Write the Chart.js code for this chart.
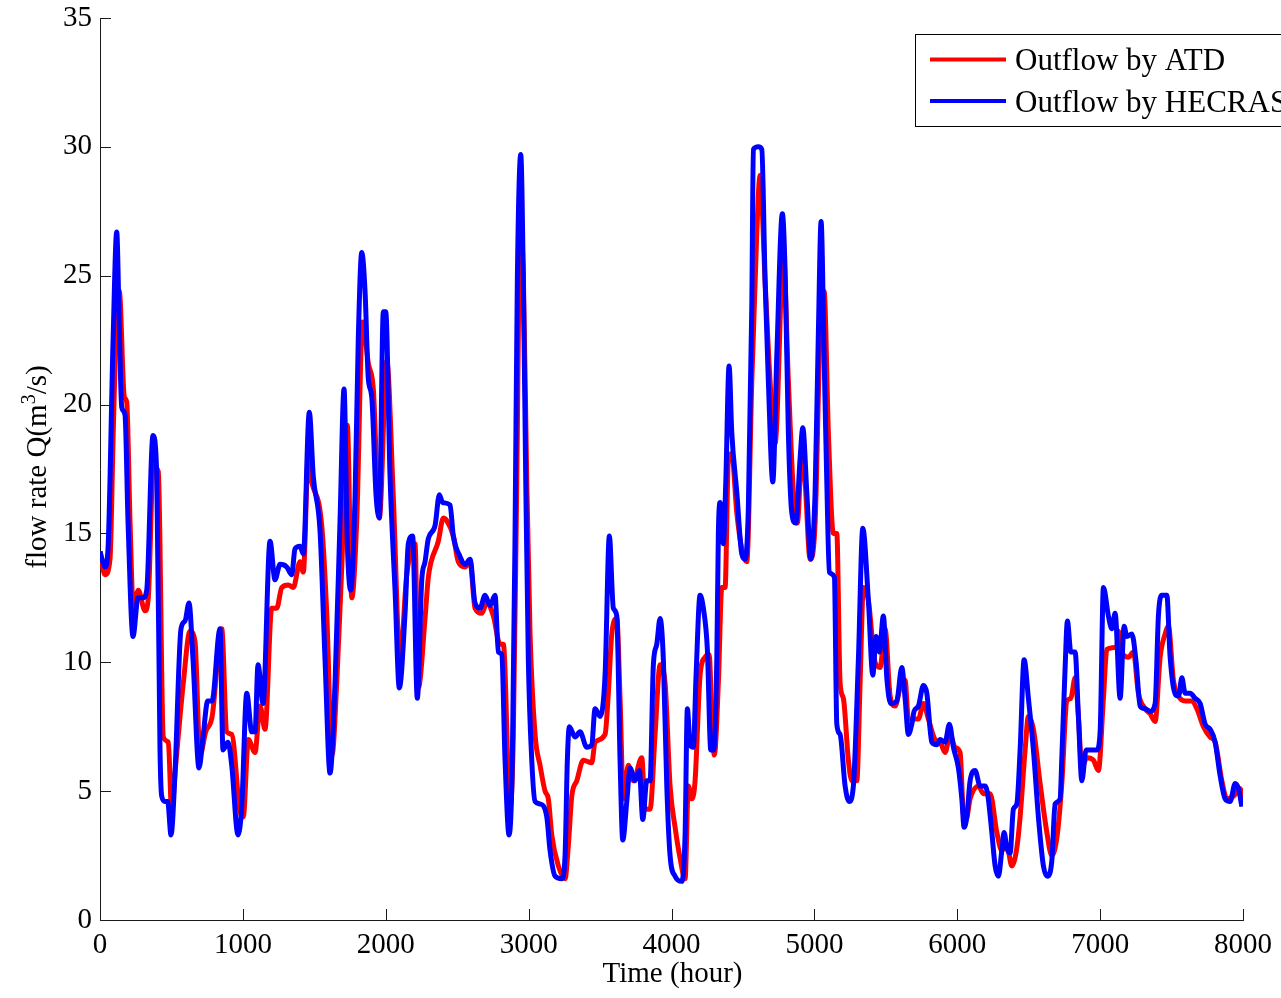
<!DOCTYPE html>
<html>
<head>
<meta charset="utf-8">
<title>Outflow comparison</title>
<script src="https://cdn.jsdelivr.net/npm/chart.js@4/dist/chart.umd.min.js"></script>
<style>
  html, body { margin: 0; padding: 0; background: #fff; }
  canvas { display: block; }
</style>
</head>
<body>
<canvas id="chart" width="1281" height="998"></canvas>
<script>
// Outflow computed by ATD (hour, m^3/s)
const atdHours = [0, 35, 70, 93, 117, 135, 170, 187, 210, 233, 268, 315, 338, 373, 408, 443, 478, 502, 525, 583, 630, 665, 700, 740, 785, 852, 887, 922, 980, 1003, 1038, 1085, 1120, 1155, 1202, 1237, 1272, 1318, 1353, 1400, 1423, 1458, 1475, 1552, 1587, 1624, 1657, 1692, 1731, 1762, 1797, 1838, 1878, 1913, 1955, 2007, 2053, 2100, 2147, 2205, 2228, 2275, 2298, 2368, 2403, 2427, 2473, 2508, 2555, 2590, 2625, 2672, 2707, 2753, 2800, 2823, 2870, 2893, 2917, 2940, 2963, 2987, 3010, 3045, 3080, 3115, 3138, 3162, 3208, 3255, 3278, 3302, 3337, 3383, 3442, 3465, 3535, 3558, 3582, 3617, 3640, 3663, 3698, 3733, 3792, 3815, 3850, 3885, 3920, 3955, 3990, 4025, 4060, 4095, 4118, 4142, 4165, 4200, 4235, 4263, 4287, 4300, 4328, 4352, 4375, 4398, 4422, 4457, 4492, 4527, 4562, 4597, 4620, 4655, 4690, 4725, 4783, 4818, 4853, 4881, 4912, 4935, 4970, 5005, 5040, 5068, 5098, 5133, 5157, 5180, 5203, 5238, 5262, 5297, 5320, 5343, 5378, 5425, 5460, 5495, 5530, 5565, 5600, 5635, 5658, 5693, 5728, 5763, 5798, 5845, 5880, 5915, 5950, 5985, 6020, 6043, 6062, 6090, 6148, 6183, 6230, 6277, 6312, 6347, 6382, 6417, 6440, 6475, 6498, 6533, 6580, 6627, 6662, 6700, 6732, 6767, 6795, 6825, 6848, 6872, 6907, 6953, 6988, 7023, 7047, 7117, 7128, 7160, 7198, 7233, 7268, 7315, 7350, 7385, 7420, 7455, 7478, 7513, 7548, 7595, 7640, 7677, 7723, 7770, 7805, 7852, 7887, 7933, 7980, 8000];
const atdFlow  = [14.3, 13.4, 14.0, 19.0, 23.5, 24.4, 20.3, 20.1, 15.5, 12.1, 12.8, 12.0, 12.5, 17.6, 17.4, 7.1, 6.9, 4.2, 5.7, 9.2, 11.2, 10.8, 6.4, 7.3, 7.9, 11.3, 7.3, 7.2, 4.2, 4.0, 7.0, 6.5, 8.3, 7.4, 12.1, 12.1, 12.9, 13.0, 12.9, 13.9, 13.5, 18.0, 17.2, 15.3, 11.9, 6.4, 9.2, 13.7, 19.2, 12.5, 15.5, 23.2, 21.6, 20.6, 15.6, 21.7, 16.4, 10.1, 13.4, 14.6, 9.0, 11.7, 13.3, 14.7, 15.6, 15.5, 14.9, 13.9, 13.7, 13.9, 12.1, 11.9, 12.3, 11.8, 10.7, 10.7, 4.3, 7.2, 17.0, 26.7, 25.0, 17.0, 11.1, 7.2, 6.0, 5.0, 4.7, 3.3, 2.1, 1.6, 2.9, 4.8, 5.4, 6.2, 6.1, 6.9, 7.2, 8.8, 11.1, 11.7, 8.6, 4.7, 6.0, 5.4, 6.3, 4.3, 4.3, 7.2, 9.9, 9.2, 5.2, 3.6, 2.4, 1.6, 5.2, 4.7, 5.4, 9.5, 10.2, 10.3, 7.2, 6.4, 9.2, 12.9, 12.9, 17.9, 18.1, 15.8, 14.4, 13.9, 20.9, 26.7, 28.9, 24.8, 20.9, 18.5, 25.8, 20.9, 16.6, 15.4, 18.1, 17.0, 14.0, 15.4, 22.8, 24.4, 18.9, 15.0, 15.0, 9.2, 8.6, 6.2, 5.4, 5.4, 9.2, 12.9, 12.4, 10.0, 9.8, 11.3, 8.7, 8.3, 9.0, 9.3, 7.8, 7.8, 7.8, 8.4, 7.8, 7.0, 6.9, 6.5, 7.2, 6.7, 6.5, 4.1, 3.9, 4.7, 5.2, 4.9, 4.9, 3.4, 2.7, 2.9, 2.1, 2.8, 4.0, 6.6, 7.9, 7.4, 5.3, 3.4, 2.5, 3.3, 5.3, 8.5, 8.6, 9.4, 7.9, 5.9, 6.3, 6.2, 5.8, 8.6, 10.5, 10.6, 11.2, 10.3, 10.2, 10.4, 8.8, 8.2, 8.0, 7.7, 10.2, 11.1, 11.4, 9.3, 8.7, 8.5, 8.5, 8.2, 7.5, 7.1, 6.9, 5.4, 4.7, 4.8, 5.1, 4.6];

// Outflow computed by HEC-RAS (hour, m^3/s)
const hecrasHours = [0, 35, 56, 92, 117, 135, 152, 175, 196, 231, 266, 301, 327, 371, 397, 420, 432, 455, 474, 497, 525, 567, 595, 623, 651, 693, 721, 754, 784, 840, 861, 896, 922, 966, 992, 1027, 1062, 1085, 1106, 1141, 1190, 1225, 1260, 1307, 1342, 1365, 1400, 1423, 1465, 1493, 1540, 1575, 1610, 1645, 1680, 1708, 1731, 1755, 1785, 1808, 1832, 1855, 1878, 1902, 1932, 1955, 1983, 2000, 2030, 2065, 2095, 2135, 2158, 2188, 2221, 2252, 2275, 2298, 2345, 2375, 2398, 2450, 2473, 2520, 2555, 2590, 2625, 2660, 2695, 2730, 2765, 2788, 2812, 2835, 2863, 2886, 2905, 2921, 2945, 2963, 2980, 2998, 3022, 3045, 3080, 3127, 3150, 3185, 3232, 3255, 3271, 3285, 3325, 3360, 3407, 3442, 3465, 3500, 3535, 3565, 3593, 3617, 3640, 3659, 3687, 3710, 3745, 3775, 3799, 3827, 3850, 3873, 3897, 3920, 3943, 3967, 3990, 4025, 4072, 4095, 4111, 4130, 4153, 4172, 4200, 4223, 4251, 4275, 4295, 4317, 4328, 4340, 4363, 4380, 4403, 4422, 4457, 4492, 4515, 4538, 4562, 4573, 4608, 4632, 4655, 4678, 4709, 4737, 4776, 4795, 4818, 4842, 4870, 4900, 4919, 4947, 4975, 5005, 5028, 5047, 5068, 5087, 5105, 5140, 5157, 5180, 5215, 5243, 5273, 5308, 5339, 5378, 5409, 5432, 5455, 5483, 5507, 5535, 5577, 5612, 5635, 5658, 5682, 5698, 5728, 5763, 5787, 5822, 5857, 5880, 5915, 5945, 5973, 6008, 6032, 6048, 6067, 6090, 6125, 6160, 6195, 6215, 6242, 6265, 6288, 6312, 6328, 6347, 6370, 6393, 6417, 6440, 6468, 6498, 6533, 6568, 6603, 6631, 6662, 6685, 6720, 6732, 6755, 6771, 6795, 6825, 6848, 6872, 6902, 6930, 6977, 7000, 7023, 7058, 7082, 7105, 7140, 7168, 7187, 7222, 7252, 7280, 7315, 7350, 7385, 7408, 7432, 7467, 7490, 7532, 7550, 7572, 7595, 7630, 7665, 7700, 7735, 7770, 7805, 7840, 7875, 7910, 7945, 7968, 7992];
const hecrasFlow  = [14.3, 13.7, 14.4, 22.6, 26.7, 23.0, 19.9, 19.6, 15.5, 11.0, 12.5, 12.5, 12.8, 18.8, 17.3, 6.6, 4.8, 4.6, 4.6, 3.3, 5.7, 11.3, 11.6, 12.3, 10.1, 5.9, 7.1, 8.5, 8.5, 11.3, 6.6, 6.9, 6.0, 3.3, 4.4, 8.8, 7.3, 7.3, 9.9, 8.4, 14.7, 13.2, 13.8, 13.7, 13.4, 14.4, 14.5, 14.2, 19.7, 17.2, 15.1, 10.1, 5.7, 9.2, 15.5, 20.6, 14.6, 12.8, 16.4, 22.6, 25.9, 24.4, 21.0, 20.3, 16.5, 15.6, 23.6, 23.6, 17.2, 12.8, 9.0, 11.9, 14.6, 14.9, 8.6, 13.2, 13.9, 14.8, 15.3, 16.5, 16.2, 16.1, 14.9, 14.1, 13.8, 14.0, 12.3, 12.1, 12.6, 12.2, 12.6, 10.4, 10.3, 6.2, 3.3, 6.2, 15.0, 24.8, 29.7, 24.8, 17.0, 10.1, 6.2, 4.6, 4.5, 4.0, 2.7, 1.7, 1.6, 2.5, 6.2, 7.5, 7.1, 7.3, 6.7, 6.8, 8.2, 7.9, 9.5, 14.9, 12.1, 11.8, 6.2, 3.1, 4.6, 5.9, 5.4, 5.8, 3.9, 5.4, 5.4, 9.9, 10.7, 11.7, 10.1, 5.2, 2.5, 1.7, 1.5, 3.3, 8.2, 6.8, 6.7, 9.5, 12.6, 12.1, 10.5, 6.6, 6.6, 10.1, 15.0, 16.2, 14.6, 17.0, 21.5, 18.9, 16.6, 14.2, 14.0, 16.0, 23.8, 29.9, 30.0, 29.9, 24.8, 20.9, 17.0, 21.9, 27.4, 25.2, 18.9, 15.8, 15.4, 17.9, 19.1, 16.6, 14.0, 16.6, 22.8, 27.1, 21.9, 17.0, 13.5, 13.3, 7.6, 7.2, 5.2, 4.6, 5.2, 10.1, 15.2, 12.4, 9.5, 11.0, 10.4, 11.8, 9.4, 8.4, 8.5, 9.8, 8.6, 7.2, 7.6, 8.1, 8.3, 9.1, 8.8, 6.9, 6.8, 7.0, 6.9, 7.6, 6.7, 5.9, 4.7, 3.6, 4.0, 5.4, 5.8, 5.2, 5.2, 4.8, 3.4, 2.1, 1.7, 2.7, 3.4, 2.8, 2.6, 4.3, 4.5, 6.6, 10.1, 8.6, 6.6, 4.0, 2.1, 1.7, 2.3, 4.5, 4.7, 6.3, 9.8, 11.6, 10.4, 10.4, 7.9, 5.4, 6.6, 6.6, 6.6, 7.3, 12.9, 11.8, 11.3, 11.9, 8.6, 11.4, 11.0, 11.1, 10.0, 8.3, 8.2, 8.1, 8.4, 11.8, 12.6, 12.6, 10.2, 8.7, 8.7, 9.4, 8.8, 8.8, 8.6, 8.4, 7.6, 7.4, 6.9, 5.6, 4.7, 4.6, 5.3, 5.1, 4.4];

// Axis ticks
const hourTicks = [0, 1000, 2000, 3000, 4000, 5000, 6000, 7000, 8000];
const flowTicks = [0, 5, 10, 15, 20, 25, 30, 35];

const seriesNames = ['Outflow by ATD', 'Outflow by HECRAS'];
const seriesColors = ['#ff0000', '#0000ff'];

const FONT = '"Liberation Serif", "Times New Roman", serif';
const FONT_SIZE = 29;
const LEGEND_FONT_SIZE = 31;

const toPoints = (xs, ys) => xs.map((x, i) => ({ x, y: ys[i] }));

// Inward-pointing tick marks on both axes
const innerTicks = {
  id: 'innerTicks',
  afterDatasetsDraw(chart) {
    const { ctx, chartArea, scales } = chart;
    const len = 11;
    ctx.save();
    ctx.strokeStyle = '#1a1a1a';
    ctx.lineWidth = 1;
    ctx.beginPath();
    hourTicks.forEach(v => {
      const px = Math.round(scales.x.getPixelForValue(v)) + 0.5;
      ctx.moveTo(px, chartArea.bottom);
      ctx.lineTo(px, chartArea.bottom - len);
    });
    flowTicks.forEach(v => {
      const py = Math.round(scales.y.getPixelForValue(v)) + 0.5;
      ctx.moveTo(chartArea.left, py);
      ctx.lineTo(chartArea.left + len, py);
    });
    ctx.stroke();
    ctx.restore();
  }
};

// Axis titles (with a raised exponent) and the boxed legend at top right
const labelsAndLegend = {
  id: 'labelsAndLegend',
  afterDraw(chart) {
    const { ctx, chartArea } = chart;
    ctx.save();
    ctx.fillStyle = '#000';
    ctx.textBaseline = 'alphabetic';

    // x-axis title
    ctx.font = `${FONT_SIZE}px ${FONT}`;
    ctx.textAlign = 'center';
    ctx.fillText('Time (hour)', (chartArea.left + chartArea.right) / 2 + 1, 982);

    // y-axis title, rotated
    const partA = 'flow rate Q(m';
    const sup = '3';
    const partB = '/s)';
    ctx.font = `${FONT_SIZE}px ${FONT}`;
    const wA = ctx.measureText(partA).width;
    const wB = ctx.measureText(partB).width;
    ctx.font = `${Math.round(FONT_SIZE * 0.7)}px ${FONT}`;
    const wS = ctx.measureText(sup).width;
    const total = wA + wS + wB;
    ctx.translate(46, 467);
    ctx.rotate(-Math.PI / 2);
    ctx.textAlign = 'left';
    const x0 = -total / 2;
    ctx.font = `${FONT_SIZE}px ${FONT}`;
    ctx.fillText(partA, x0, 0);
    ctx.font = `${Math.round(FONT_SIZE * 0.7)}px ${FONT}`;
    ctx.fillText(sup, x0 + wA, -11);
    ctx.font = `${FONT_SIZE}px ${FONT}`;
    ctx.fillText(partB, x0 + wA + wS, 0);
    ctx.setTransform(1, 0, 0, 1, 0, 0);

    // legend (box runs past the right edge of the canvas)
    const boxL = 915.5, boxT = 34.5, boxB = 126.5;
    ctx.fillStyle = '#fff';
    ctx.fillRect(boxL, boxT, 420, boxB - boxT);
    ctx.strokeStyle = '#000';
    ctx.lineWidth = 1;
    ctx.strokeRect(boxL, boxT, 420, boxB - boxT);
    const rows = [59.5, 101];
    const baselines = [70, 112];
    ctx.lineWidth = 4;
    ctx.font = `${LEGEND_FONT_SIZE}px ${FONT}`;
    ctx.textAlign = 'left';
    seriesNames.forEach((name, i) => {
      ctx.strokeStyle = seriesColors[i];
      ctx.beginPath();
      ctx.moveTo(930, rows[i]);
      ctx.lineTo(1006, rows[i]);
      ctx.stroke();
      ctx.fillStyle = '#000';
      ctx.fillText(name, 1015, baselines[i]);
    });
    ctx.restore();
  }
};

new Chart(document.getElementById('chart'), {
  type: 'line',
  data: {
    datasets: [
      {
        label: seriesNames[0],
        data: toPoints(atdHours, atdFlow),
        borderColor: seriesColors[0],
        borderWidth: 5,
        pointRadius: 0,
        cubicInterpolationMode: 'monotone',
        order: 1
      },
      {
        label: seriesNames[1],
        data: toPoints(hecrasHours, hecrasFlow),
        borderColor: seriesColors[1],
        borderWidth: 5,
        pointRadius: 0,
        cubicInterpolationMode: 'monotone',
        order: 0
      }
    ]
  },
  options: {
    responsive: false,
    devicePixelRatio: 1,
    animation: false,
    layout: { padding: { top: 18, right: 38, left: 0, bottom: 0 } },
    plugins: {
      legend: { display: false },
      tooltip: { enabled: false }
    },
    scales: {
      x: {
        type: 'linear',
        min: 0,
        max: 8000,
        afterBuildTicks: scale => { scale.ticks = hourTicks.map(v => ({ value: v })); },
        afterFit: scale => {
          scale.height = 78;
          scale.paddingLeft = 0;
          scale.paddingRight = 0;
        },
        grid: { drawOnChartArea: false, drawTicks: false },
        border: { display: true, color: '#1a1a1a', width: 1 },
        ticks: {
          color: '#000',
          padding: 8,
          maxRotation: 0,
          font: { family: FONT, size: FONT_SIZE },
          callback: v => String(v)
        }
      },
      y: {
        type: 'linear',
        min: 0,
        max: 35,
        afterBuildTicks: scale => { scale.ticks = flowTicks.map(v => ({ value: v })); },
        afterFit: scale => {
          scale.width = 100;
          scale.paddingTop = 0;
          scale.paddingBottom = 0;
        },
        grid: { drawOnChartArea: false, drawTicks: false },
        border: { display: true, color: '#1a1a1a', width: 1 },
        ticks: {
          color: '#000',
          padding: 8,
          font: { family: FONT, size: FONT_SIZE },
          callback: v => String(v)
        }
      }
    }
  },
  plugins: [innerTicks, labelsAndLegend]
});
</script>
</body>
</html>
